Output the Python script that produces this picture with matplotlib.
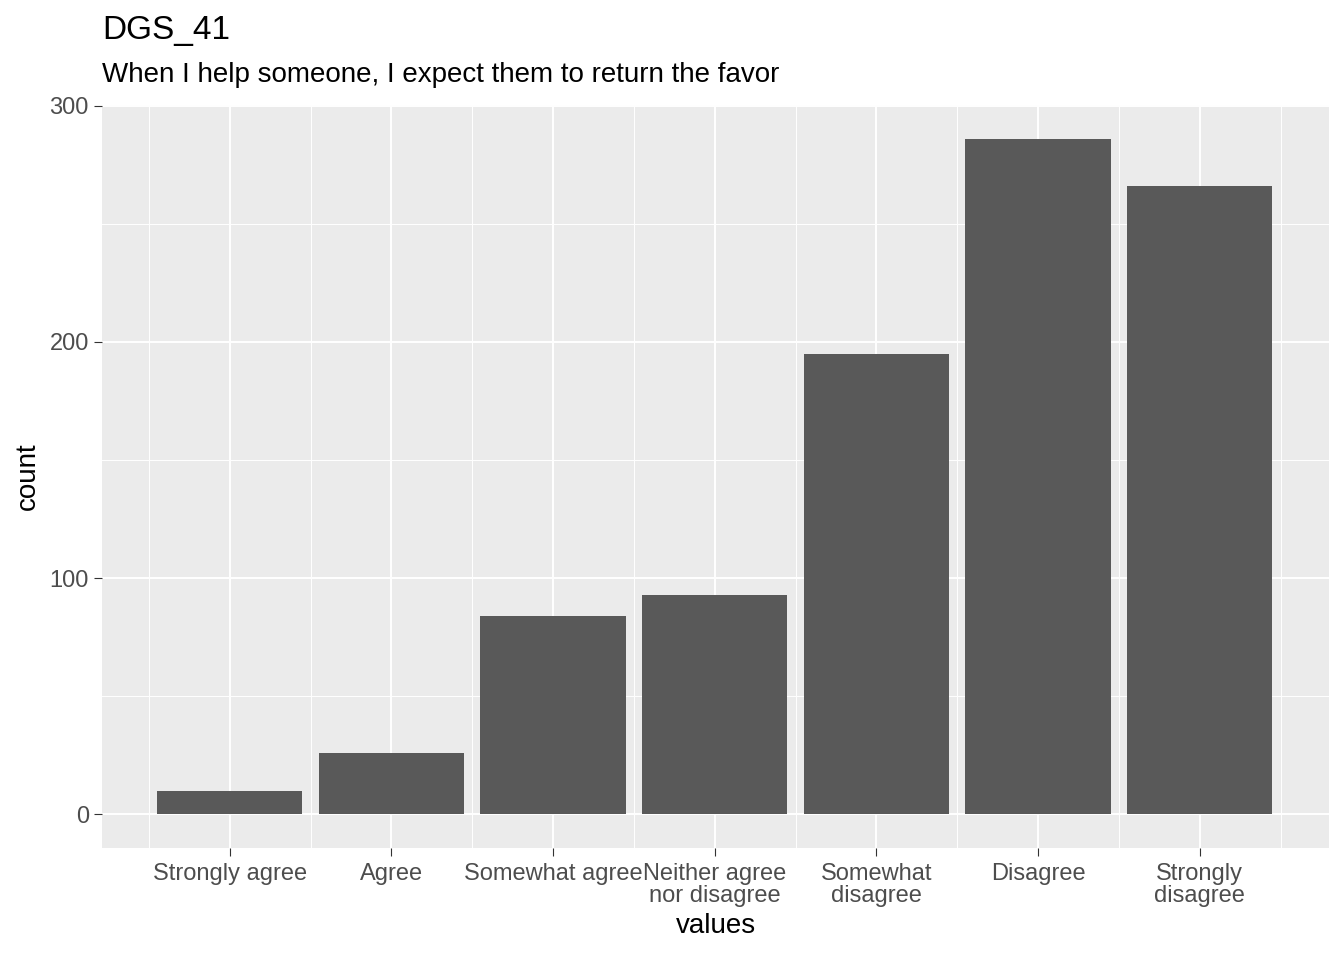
import matplotlib.pyplot as plt

plt.rcParams['font.family'] = ['Liberation Sans', 'DejaVu Sans']

categories = ["Strongly agree", "Agree", "Somewhat agree", "Neither agree\nnor disagree",
              "Somewhat\ndisagree", "Disagree", "Strongly\ndisagree"]
counts = [10, 26, 84, 93, 195, 286, 266]

fig = plt.figure(figsize=(13.44, 9.6), dpi=100)
ax = fig.add_axes([102/1344, 1 - 848/960, (1329 - 102)/1344, (848 - 105)/960])
ax.set_facecolor("#EBEBEB")
x = list(range(1, len(categories) + 1))
ax.bar(x, counts, width=0.9, color="#595959", zorder=3)
ax.set_xlim(0.21, 7.8)
ax.set_ylim(-14.3, 300.3)
ax.set_yticks([0, 100, 200, 300])
ax.set_yticks([50, 150, 250], minor=True)
ax.set_xticks(x)
ax.set_xticks([i + 0.5 for i in range(0, 8)], minor=True)
ax.set_xticklabels(categories, linespacing=1.0)
ax.grid(which="major", color="white", linewidth=1.4, zorder=1)
ax.grid(which="minor", color="white", linewidth=0.7, zorder=1)
for s in ax.spines.values():
    s.set_visible(False)
ax.tick_params(axis="both", which="major", labelsize=17, colors="#333333", length=6, color="#333333")
ax.tick_params(axis="x", labelcolor="#4D4D4D", pad=5)
ax.tick_params(axis="y", labelcolor="#4D4D4D")
ax.tick_params(which="minor", length=0)
ax.set_xlabel("values", fontsize=20, labelpad=4)
ax.set_ylabel("count", fontsize=20, labelpad=6)
fig.text(102/1344, 1 - 30/960, "DGS_41", fontsize=24, va="center")
fig.text(102/1344, 1 - 75/960, "When I help someone, I expect them to return the favor", fontsize=20, va="center")
fig.savefig("out.png", dpi=100)
